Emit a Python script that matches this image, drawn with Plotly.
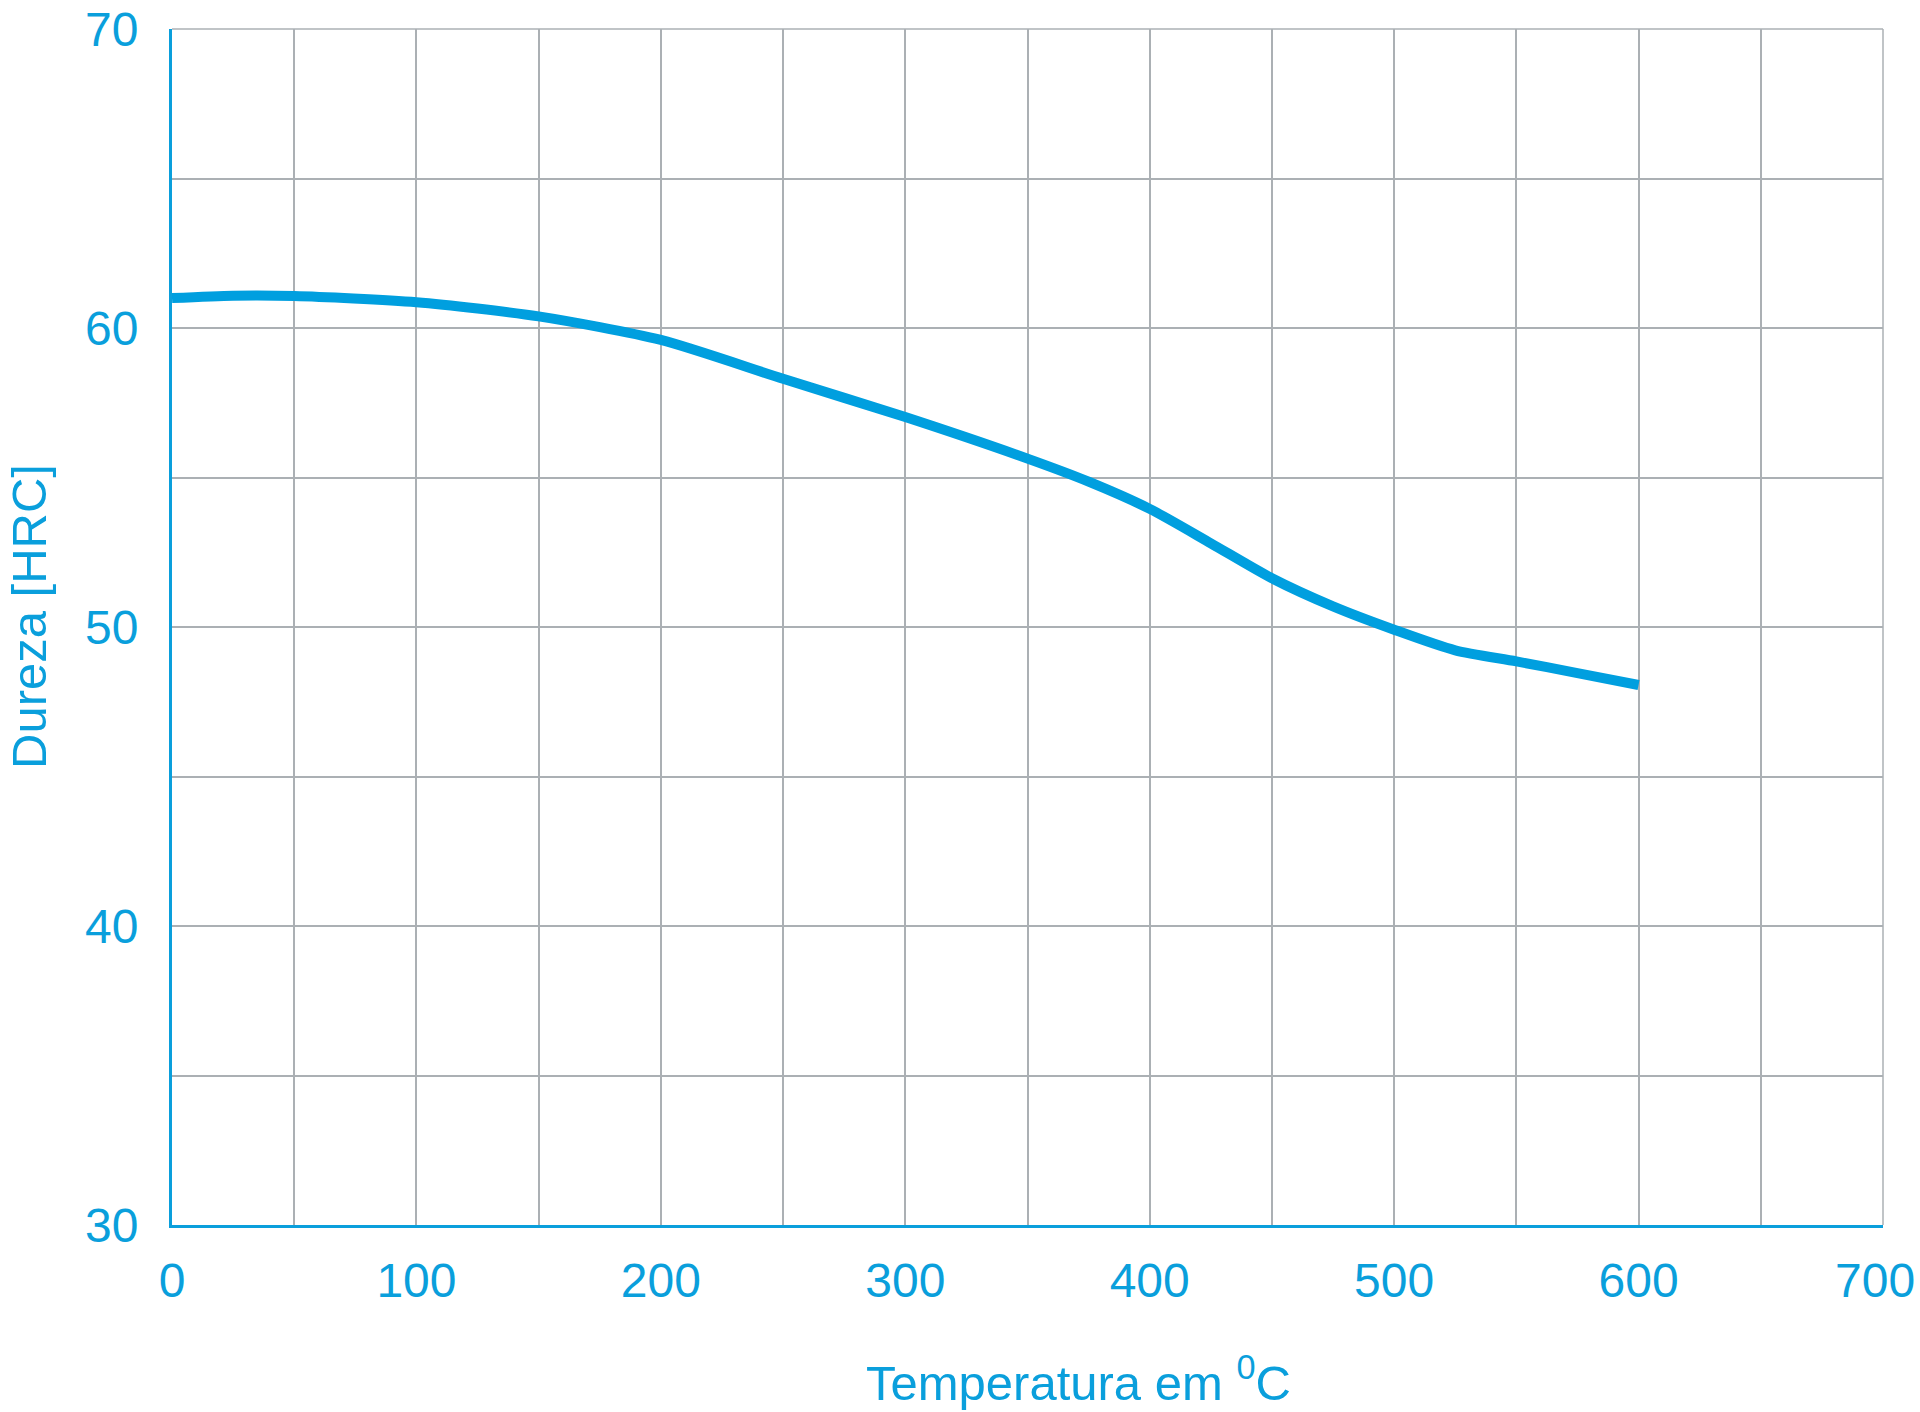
import plotly.graph_objects as go

temperature = [0, 25, 50, 100, 150, 200, 250, 300, 350, 375, 400, 425, 450, 475, 500, 525, 550, 575, 600]
hardness = [61.0, 61.08, 61.07, 60.86, 60.39, 59.6, 58.3, 57.02, 55.63, 54.86, 53.95, 52.8, 51.63, 50.69, 49.91, 49.22, 48.85, 48.46, 48.06]

x_ticks = [0, 100, 200, 300, 400, 500, 600, 700]
y_ticks = [30, 40, 50, 60, 70]

BLUE = "#0a9fdc"
LINE = "#009fdf"
GRID = "#abb0b4"
FONT = "Liberation Sans, Arial, sans-serif"

fig = go.Figure()
fig.add_trace(go.Scatter(
    x=temperature, y=hardness, mode="lines",
    line=dict(color=LINE, width=10, shape="spline", smoothing=0.7),
    showlegend=False, hoverinfo="skip",
))

L, R, T, B = 172, 37, 29, 187
W, H = 1920, 1412
PH = H - T - B

# last x label is placed as an annotation so it stays inside the page, as in the reference
shown_x = x_ticks[:-1]

fig.update_layout(
    width=W, height=H,
    margin=dict(l=L, r=R, t=T, b=B, autoexpand=False),
    plot_bgcolor="white", paper_bgcolor="white",
    font=dict(family=FONT, color=BLUE, size=48),
    xaxis=dict(
        range=[0, 700], tickvals=shown_x, ticktext=[str(v) for v in shown_x],
        showgrid=True, gridcolor=GRID, gridwidth=1.5,
        minor=dict(dtick=50, tick0=0, showgrid=True, gridcolor=GRID, gridwidth=1.5),
        showline=True, linecolor=BLUE, linewidth=3,
        zeroline=False, ticks="", ticklabelstandoff=11, automargin=False,
        ticklabeloverflow="allow",
        tickfont=dict(size=48, color=BLUE, family=FONT),
    ),
    yaxis=dict(
        range=[30, 70], tickvals=y_ticks, ticktext=[str(v) for v in y_ticks],
        showgrid=True, gridcolor=GRID, gridwidth=1.5,
        minor=dict(dtick=5, tick0=30, showgrid=True, gridcolor=GRID, gridwidth=1.5),
        showline=True, linecolor=BLUE, linewidth=3,
        zeroline=False, ticks="", ticklabelstandoff=21, automargin=False,
        ticklabeloverflow="allow",
        tickfont=dict(size=48, color=BLUE, family=FONT),
    ),
    shapes=[
        dict(type="line", xref="paper", yref="paper", x0=0, x1=1, y0=1, y1=1,
             line=dict(color=GRID, width=1.5), layer="below"),
        dict(type="line", xref="paper", yref="paper", x0=1, x1=1, y0=0, y1=1,
             line=dict(color=GRID, width=1.5), layer="below"),
    ],
    annotations=[
        dict(text=str(x_ticks[-1]), xref="x", yref="paper",
             x=x_ticks[-1], y=(H - B - 1280) / PH,
             xanchor="right", yanchor="middle", xshift=34, showarrow=False,
             font=dict(size=48, color=BLUE, family=FONT)),
        dict(text="Temperatura em <sup>0</sup>C", xref="paper", yref="paper",
             x=(1078 - L) / (W - L - R), y=(H - B - 1379) / PH,
             xanchor="center", yanchor="middle", showarrow=False,
             font=dict(size=49, color=BLUE, family=FONT)),
        dict(text="Dureza [HRC]", xref="paper", yref="paper",
             x=(29 - L) / (W - L - R), y=(H - B - 617) / PH,
             xanchor="center", yanchor="middle", textangle=-90, showarrow=False,
             font=dict(size=49, color=BLUE, family=FONT)),
    ],
)

fig.write_html("out.html")
